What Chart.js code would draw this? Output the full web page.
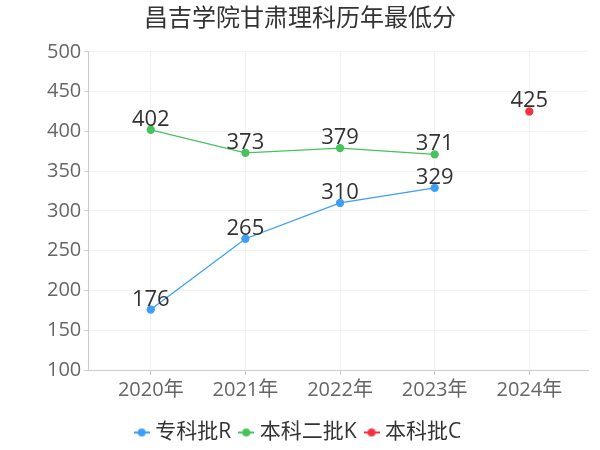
<!DOCTYPE html>
<html><head><meta charset="utf-8">
<script src="https://cdn.jsdelivr.net/npm/chart.js@4/dist/chart.umd.min.js"></script>
<style>html,body{margin:0;padding:0;background:#fff}#wrap{width:600px;height:450px}</style>
</head><body><div id="wrap"><canvas id="c" width="600" height="450"></canvas></div>
<script>
const categories = ['2020年','2021年','2022年','2023年','2024年'];
const seriesNames = ['专科批R','本科二批K','本科批C'];
const zhuanke = [176, 265, 310, 329, null];
const benke2 = [402, 373, 379, 371, null];
const benke = [null, null, null, null, 425];
const yTicks = [100,150,200,250,300,350,400,450,500];
const colors = ['#3d9ff7','#46c35a','#f2323c'];

const FONT = '"Open Sans", "Noto Sans CJK SC", sans-serif';
function pts(arr){ return arr.map((v,i)=>({x:i,y:v})); }
function legendIcon(color){
  const c=document.createElement('canvas'); c.width=16; c.height=10;
  const g=c.getContext('2d');
  g.strokeStyle=color; g.lineWidth=2; g.beginPath(); g.moveTo(0,5); g.lineTo(16,5); g.stroke();
  g.fillStyle=color; g.beginPath(); g.arc(8,5,4,0,Math.PI*2); g.fill();
  return c;
}
const dataLabels = {
  id:'dataLabels',
  afterDatasetsDraw(chart){
    const ctx=chart.ctx; ctx.save();
    ctx.font='22px '+FONT; ctx.fillStyle='#333'; ctx.textAlign='center'; ctx.textBaseline='alphabetic';
    chart.data.datasets.forEach((ds,di)=>{
      chart.getDatasetMeta(di).data.forEach((el,i)=>{
        const v=ds.data[i].y; if(v==null) return;
        ctx.fillText(String(v), el.x, el.y-4);
      });
    });
    ctx.restore();
  }
};
const sets=[zhuanke,benke2,benke];
new Chart(document.getElementById('c'),{
  type:'line',
  data:{datasets: sets.map((s,i)=>({label:seriesNames[i], data:pts(s), borderColor:colors[i], backgroundColor:colors[i], pointBackgroundColor:colors[i], pointBorderColor:colors[i], pointRadius:3.5, pointHoverRadius:3.5, borderWidth:1.3, spanGaps:false, tension:0}))},
  options:{
    responsive:false, animation:false, devicePixelRatio:1,
    layout:{padding:{left:12,right:12,top:0,bottom:-3}},
    plugins:{
      title:{display:true,text:'昌吉学院甘肃理科历年最低分',color:'#333',font:{size:24,family:FONT,weight:'normal'},padding:{top:5,bottom:18}},
      legend:{position:'bottom',labels:{usePointStyle:true,pointStyleWidth:6,color:'#333',font:{size:21,family:FONT},padding:12,
        generateLabels(chart){return chart.data.datasets.map((d,i)=>({text:d.label,pointStyle:legendIcon(colors[i]),fillStyle:colors[i],strokeStyle:colors[i],lineWidth:0,fontColor:'#333',datasetIndex:i,hidden:false}));}}},
      tooltip:{enabled:false}
    },
    scales:{
      x:{type:'linear',min:-0.66,max:4.62,
        afterBuildTicks(s){s.ticks=categories.map((c,i)=>({value:i}));},
        afterFit(s){s.height+=5;},
        ticks:{callback:(v)=>categories[v],color:'#666',font:{size:20,family:FONT},padding:3,autoSkip:false,maxRotation:0},
        grid:{color:'#f2f2f2',drawTicks:true,tickLength:5,tickColor:'#ccc'},
        border:{color:'#ccc'}},
      y:{min:100,max:500,
        afterBuildTicks(s){s.ticks=yTicks.map(v=>({value:v}));},
        afterFit(s){s.width+=32;},
        ticks:{color:'#666',font:{size:20,family:FONT},padding:3},
        grid:{color:'#f2f2f2',tickLength:4,tickColor:'#ccc'},
        border:{color:'#ccc'}}
    }
  },
  plugins:[dataLabels]
});
</script></body></html>
